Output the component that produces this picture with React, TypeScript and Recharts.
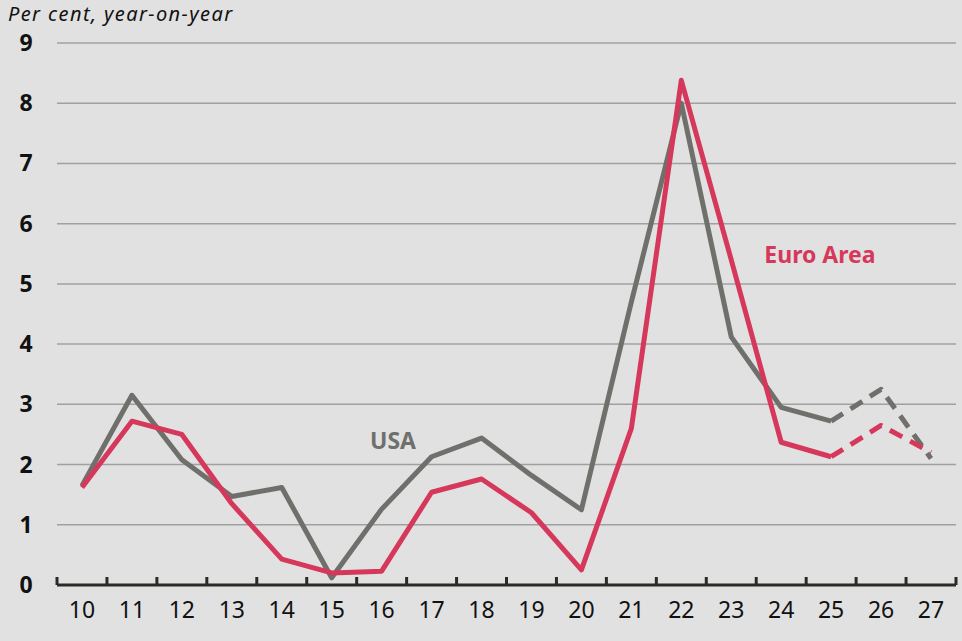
import { LineChart, Line, XAxis, YAxis, CartesianGrid } from 'recharts';

const years = [10, 11, 12, 13, 14, 15, 16, 17, 18, 19, 20, 21, 22, 23, 24, 25, 26, 27];
const usa = [1.65, 3.15, 2.08, 1.47, 1.62, 0.12, 1.26, 2.13, 2.44, 1.82, 1.25, 4.7, 8.0, 4.12, 2.95, 2.72, 3.25, 2.1];
const euro = [1.62, 2.72, 2.5, 1.35, 0.43, 0.2, 0.23, 1.54, 1.76, 1.2, 0.25, 2.6, 8.38, 5.4, 2.37, 2.13, 2.65, 2.2];
const forecastFrom = 25;
const yTicks = [0, 1, 2, 3, 4, 5, 6, 7, 8, 9];

const data = years.map((y, i) => ({
  year: y,
  usa: y <= forecastFrom ? usa[i] : undefined,
  usaF: y >= forecastFrom ? usa[i] : undefined,
  euro: y <= forecastFrom ? euro[i] : undefined,
  euroF: y >= forecastFrom ? euro[i] : undefined,
}));

// labels on whole years, tick marks on half years
const xTicks: number[] = [];
for (let v = years[0] - 0.5; v <= years[years.length - 1] + 0.5; v += 0.5) xTicks.push(v);

const FONT = '"Noto Sans", sans-serif';
const RED = '#d6385b';
const GREY = '#6f6f6c';

function XTick(props: any) {
  const { x, y, payload } = props;
  const v = payload.value;
  if (Number.isInteger(v)) {
    return (
      <text x={x} y={y + 33} textAnchor="middle" fontFamily={FONT} fontSize={23} fill="#111">
        {v}
      </text>
    );
  }
  return <line x1={x} x2={x} y1={y} y2={y - 8} stroke="#2b2b26" strokeWidth={3} />;
}

function YTick(props: any) {
  const { y, payload } = props;
  return (
    <text x={26} y={y + 8} textAnchor="middle" fontFamily={FONT} fontWeight={700} fontSize={23} fill="#111">
      {payload.value}
    </text>
  );
}

export default function App() {
  return (
    <div style={{ position: 'absolute', left: 0, top: 0, width: 962, height: 641, background: '#e1e1e1' }}>
      <div
        style={{
          position: 'absolute',
          left: 8,
          top: 0,
          fontFamily: FONT,
          fontStyle: 'italic',
          fontSize: 20,
          lineHeight: 'normal',
          letterSpacing: 1.4,
          color: '#111',
          whiteSpace: 'nowrap',
        }}
      >
        Per cent, year-on-year
      </div>
      <LineChart width={962} height={641} data={data} margin={{ top: 43, right: 6, bottom: 16, left: 7 }}>
        <CartesianGrid vertical={false} stroke="#a0a0a0" strokeWidth={1.5} />
        <XAxis
          dataKey="year"
          type="number"
          domain={[years[0] - 0.5, years[years.length - 1] + 0.5]}
          ticks={xTicks}
          interval={0}
          tickSize={0}
          tickMargin={0}
          tick={<XTick />}
          axisLine={{ stroke: '#2b2b26', strokeWidth: 3 }}
          tickLine={false}
          height={40}
        />
        <YAxis
          domain={[0, 9]}
          ticks={yTicks}
          interval={0}
          width={50}
          axisLine={false}
          tickLine={false}
          tick={<YTick />}
        />
        <Line dataKey="usa" stroke={GREY} strokeWidth={5} dot={false} isAnimationActive={false} strokeLinejoin="round" />
        <Line dataKey="usaF" stroke={GREY} strokeWidth={5} strokeDasharray="14 9" dot={false} isAnimationActive={false} strokeLinejoin="round" />
        <Line dataKey="euro" stroke={RED} strokeWidth={5} dot={false} isAnimationActive={false} strokeLinejoin="round" />
        <Line dataKey="euroF" stroke={RED} strokeWidth={5} strokeDasharray="14 9" dot={false} isAnimationActive={false} strokeLinejoin="round" />
        <text x={393} y={449} textAnchor="middle" fontFamily={FONT} fontWeight={700} fontSize={23} fill={GREY}>
          USA
        </text>
        <text x={820} y={263} textAnchor="middle" fontFamily={FONT} fontWeight={700} fontSize={23} fill={RED}>
          Euro Area
        </text>
      </LineChart>
    </div>
  );
}
